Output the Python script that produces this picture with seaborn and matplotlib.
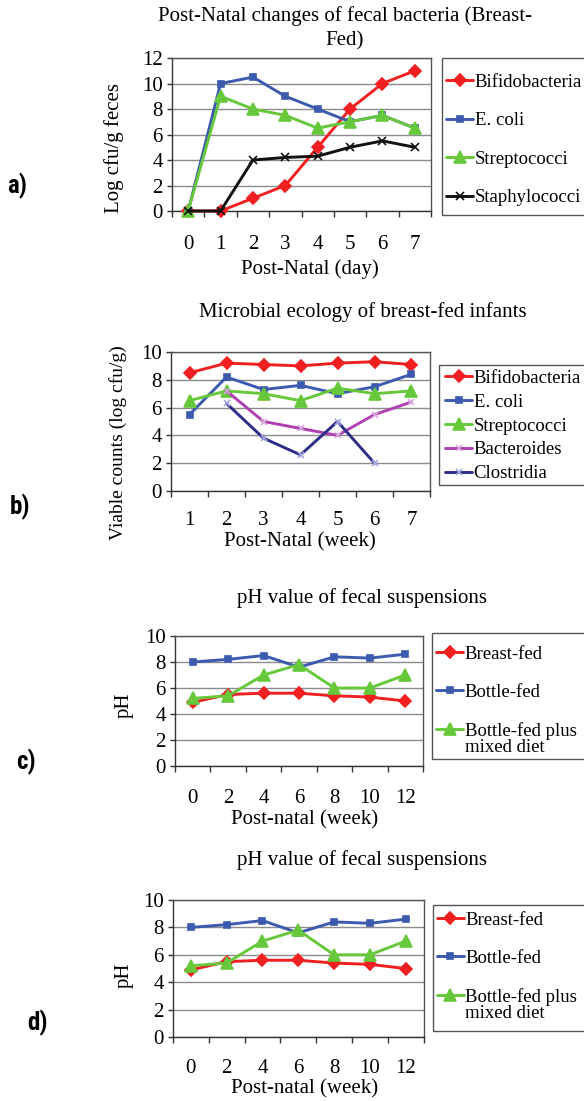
import matplotlib
matplotlib.use("Agg")
import matplotlib.pyplot as plt
import seaborn as sns
import numpy as np
import pandas as pd
from matplotlib.patches import Rectangle

sns.set_theme(style="white")
plt.rcParams["font.family"] = ["Liberation Serif", "DejaVu Serif"]
plt.rcParams.update({"text.color": "black", "axes.labelcolor": "black",
                     "xtick.color": "black", "ytick.color": "black"})

# ---------------- data ----------------
days_a = ["0", "1", "2", "3", "4", "5", "6", "7"]
bifido_a = [0, 0, 1, 2, 5, 8, 10, 11]
ecoli_a = [0, 10, 10.5, 9, 8, 7, 7.5, 6.5]
strep_a = [0, 9, 8, 7.5, 6.5, 7, 7.5, 6.5]
staph_a = [0, 0, 4, 4.2, 4.3, 5, 5.5, 5]

weeks_b = ["1", "2", "3", "4", "5", "6", "7"]
bifido_b = [8.5, 9.2, 9.1, 9.0, 9.2, 9.3, 9.1]
ecoli_b = [5.5, 8.2, 7.3, 7.6, 7.0, 7.5, 8.4]
strep_b = [6.5, 7.2, 7.0, 6.5, 7.4, 7.0, 7.2]
bactero_b = [np.nan, 7.2, 5.0, 4.5, 4.0, 5.5, 6.4]
clostr_b = [np.nan, 6.3, 3.8, 2.6, 5.0, 2.0, np.nan]

weeks_c = ["0", "2", "4", "6", "8", "10", "12"]
breast_c = [4.9, 5.5, 5.6, 5.6, 5.4, 5.3, 5.0]
bottle_c = [8.0, 8.2, 8.5, 7.6, 8.4, 8.3, 8.6]
mixed_c = [5.2, 5.4, 7.0, 7.8, 6.0, 6.0, 7.0]

RED, BLUE, GREEN, BLACK = "#F02020", "#3C5AAE", "#66C83A", "#111111"
PURPLE, NAVY = "#B040B0", "#2E2E88"

W, H, DPI = 584, 1101, 100
fig = plt.figure(figsize=(W / DPI, H / DPI), dpi=DPI)
pending = []  # (legend, index, extra text) for two-line labels


def fx(px):
    return px / W


def fy(py):
    return 1 - py / H


def panel(rect, cats, series, ymax, xpad, xlabel, ylabel, ylsize, xl_pos, yl_pos,
          title, title_pos, leg_box, leg_anchor, labelspacing, letter, letter_pos,
          extra_line=None):
    l, r, t, b = rect
    ax = fig.add_axes([fx(l), fy(b), (r - l) / W, (b - t) / H])
    pos = np.arange(len(cats))
    for name, vals, color, marker, ms, mec in series:
        df = pd.DataFrame({"pos": pos, "val": vals}).dropna()
        sns.lineplot(data=df, x="pos", y="val", ax=ax, color=color, marker=marker,
                     markersize=ms, markeredgecolor=mec, markerfacecolor=color,
                     markeredgewidth=1.2, linewidth=2.1, label=name, legend=False,
                     clip_on=False, sort=False, zorder=3)
    ax.set_xlim(-0.5, len(cats) - 0.5)
    ax.set_ylim(0, ymax)
    ax.set_yticks(np.arange(0, ymax + 1, 2))
    ax.set_xticks(pos)
    ax.set_xticklabels(cats)
    ax.set_xticks(np.arange(-0.5, len(cats), 1), minor=True)
    ax.tick_params(axis="x", which="major", length=0, pad=xpad, labelsize=15, bottom=True)
    ax.tick_params(axis="x", which="minor", length=4.5, width=1, color="#333333",
                   direction="out", bottom=True)
    ax.tick_params(axis="y", which="major", length=3.5, width=1, color="#333333",
                   direction="out", pad=3, labelsize=15, left=True)
    ax.yaxis.grid(True, color="#8c8c8c", linewidth=1)
    ax.xaxis.grid(False)
    ax.set_axisbelow(True)
    for s in ["top", "right"]:
        ax.spines[s].set_color("#555555")
        ax.spines[s].set_linewidth(1)
    for s in ["left", "bottom"]:
        ax.spines[s].set_color("#333333")
        ax.spines[s].set_linewidth(1)
    ax.set_xlabel(xlabel, fontsize=15)
    ax.set_ylabel(ylabel, fontsize=ylsize)
    ax.xaxis.label.set_va("center")
    ax.yaxis.label.set_va("center")
    ax.xaxis.set_label_coords((xl_pos[0] - l) / (r - l), (b - xl_pos[1]) / (b - t))
    ax.yaxis.set_label_coords((yl_pos[0] - l) / (r - l), (b - yl_pos[1]) / (b - t))

    fig.text(fx(title_pos[0]), fy(title_pos[1]), title, ha="center", va="center",
             fontsize=15, linespacing=1.35)

    bl, bt, bb = leg_box
    fig.patches.append(Rectangle((fx(bl), fy(bb)), (W + 20 - bl) / W, (bb - bt) / H,
                                 transform=fig.transFigure, fill=False,
                                 edgecolor="#555555", linewidth=1, zorder=1))
    handles = ax.get_lines()
    labels = [s[0] for s in series]
    leg = fig.legend(handles, labels, loc="center left",
                     bbox_to_anchor=(fx(leg_anchor[0]), fy(leg_anchor[1])),
                     bbox_transform=fig.transFigure, frameon=False, fontsize=13.5,
                     handlelength=1.45, handletextpad=0.08, borderpad=0, borderaxespad=0,
                     labelspacing=labelspacing, numpoints=1)
    if extra_line is not None:
        pending.append((leg, len(labels) - 1, extra_line))

    fig.text(fx(letter_pos[0]), fy(letter_pos[1]), letter, ha="center", va="center",
             fontsize=18, fontweight="bold",
             family=["Liberation Sans Narrow", "Roboto Condensed", "DejaVu Sans"])
    return ax


panel((172, 431, 58, 211), days_a,
      [("Bifidobacteria", bifido_a, RED, "D", 6.5, RED),
       ("E. coli", ecoli_a, BLUE, "s", 5, BLUE),
       ("Streptococci", strep_a, GREEN, "^", 8, GREEN),
       ("Staphylococci", staph_a, BLACK, "x", 6, BLACK)],
      12, 17, "Post-Natal (day)", "Log cfu/g feces", 15, (310, 269), (114, 148),
      "Post-Natal changes of fecal bacteria (Breast-\nFed)", (345, 28),
      (442, 58, 215), (446, 140), 1.14, "a)", (17, 186))

panel((171, 430, 352, 491), weeks_b,
      [("Bifidobacteria", bifido_b, RED, "D", 6.5, RED),
       ("E. coli", ecoli_b, BLUE, "s", 5, BLUE),
       ("Streptococci", strep_b, GREEN, "^", 8, GREEN),
       ("Bacteroides", bactero_b, PURPLE, "x", 5, "#D8A8E0"),
       ("Clostridia", clostr_b, NAVY, "x", 5, "#A8A8E0")],
      10, 14.3, "Post-Natal (week)", "Viable counts (log cfu/g)", 14, (300, 542), (118, 443),
      "Microbial ecology of breast-fed infants", (363, 312),
      (439, 365, 485), (445, 426), 0.36, "b)", (20, 507))

for (rect, tpos, box, anc, letter, lpos, xl, yl, pad) in [
        ((175, 423, 636, 766), (362, 598), (432, 633, 759), (436, 692.5), "c)", (26, 762),
         (305, 820), (124, 705), 16.3),
        ((173, 423.5, 900, 1037), (362, 860), (433, 905, 1031), (436.5, 958.5), "d)", (37, 1023),
         (305, 1089), (124, 975), 15.8)]:
    panel(rect, weeks_c,
          [("Breast-fed", breast_c, RED, "D", 6.5, RED),
           ("Bottle-fed", bottle_c, BLUE, "s", 5, BLUE),
           ("Bottle-fed plus", mixed_c, GREEN, "^", 8, GREEN)],
          10, pad, "Post-natal (week)", "pH", 15, xl, yl,
          "pH value of fecal suspensions", tpos, box, anc, 1.12, letter, lpos,
          extra_line="mixed diet")

# second line of the two-line legend label, placed right under the first line
fig.canvas.draw()
renderer = fig.canvas.get_renderer()
for leg, idx, txt in pending:
    bb = leg.get_texts()[idx].get_window_extent(renderer)
    fig.text(bb.x0 / fig.bbox.width, (bb.y0 + 1) / fig.bbox.height, txt,
             ha="left", va="top", fontsize=13.5)

fig.savefig("out.png", dpi=DPI)
